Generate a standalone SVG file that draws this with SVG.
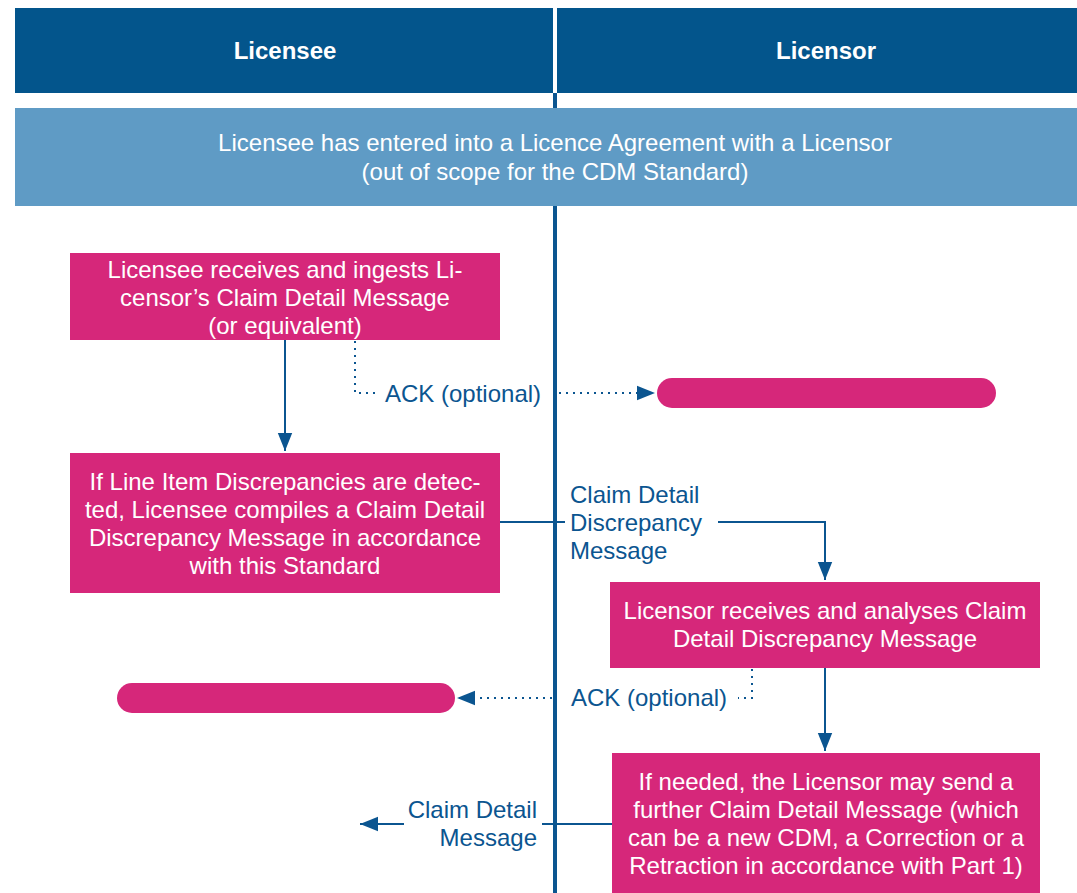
<svg xmlns="http://www.w3.org/2000/svg" width="1077" height="893" viewBox="0 0 1077 893">
<style>
.hdr{fill:#03558c}
.band{fill:#5f9bc5}
.box{fill:#d6277a}
.t{font-family:"Liberation Sans",Arial,sans-serif;font-size:24px;fill:#fff;text-anchor:middle}
.th{font-family:"Liberation Sans",Arial,sans-serif;font-size:24px;font-weight:bold;fill:#fff;text-anchor:middle}
.lbl{font-family:"Liberation Sans",Arial,sans-serif;font-size:24px;fill:#0b5590}
.ln{stroke:#0b5590;stroke-width:2;fill:none}
.dot{stroke:#0b5590;stroke-width:2;fill:none;stroke-dasharray:2 5}
</style>
<defs>
<marker id="ahl" viewBox="0 0 10 10" refX="10" refY="5" markerWidth="18" markerHeight="18" markerUnits="userSpaceOnUse" orient="auto">
<path d="M0,1 L10,5 L0,9 z" fill="#0b5590"/>
</marker>
</defs>
<rect width="1077" height="893" fill="#fff"/>
<g id="header-licensee">
<rect class="hdr" x="15" y="8" width="538" height="85"/>
<text class="th" x="285" y="59">Licensee</text>
</g>
<g id="header-licensor">
<rect class="hdr" x="557" y="8" width="520" height="85"/>
<text class="th" x="826" y="59">Licensor</text>
</g>
<g id="lifeline">
<rect x="553" y="93" width="4" height="800" fill="#0b5590"/>
</g>
<g id="agreement">
<rect class="band" x="15" y="108" width="1062" height="98"/>
<text class="t" x="555" y="151">Licensee has entered into a Licence Agreement with a Licensor</text>
<text class="t" x="555" y="180">(out of scope for the CDM Standard)</text>
</g>
<g id="ingest">
<rect class="box" x="70" y="253" width="430" height="87"/>
<text class="t" x="285" y="278">Licensee receives and ingests Li-</text>
<text class="t" x="285" y="306">censor’s Claim Detail Message</text>
<text class="t" x="285" y="334">(or equivalent)</text>
</g>
<g id="ack1">
<rect class="box" x="657" y="378" width="339" height="30" rx="15"/>
</g>
<g id="compile">
<rect class="box" x="70" y="453" width="430" height="140"/>
<text class="t" x="285" y="490">If Line Item Discrepancies are detec-</text>
<text class="t" x="285" y="518">ted, Licensee compiles a Claim Detail</text>
<text class="t" x="285" y="546">Discrepancy Message in accordance</text>
<text class="t" x="285" y="574">with this Standard</text>
</g>
<g id="analyse">
<rect class="box" x="610" y="582" width="430" height="86"/>
<text class="t" x="825" y="619">Licensor receives and analyses Claim</text>
<text class="t" x="825" y="647">Detail Discrepancy Message</text>
</g>
<g id="ack2">
<rect class="box" x="117" y="683" width="338" height="30" rx="15"/>
</g>
<g id="further">
<rect class="box" x="612" y="753" width="428" height="140"/>
<text class="t" x="826" y="790">If needed, the Licensor may send a</text>
<text class="t" x="826" y="818">further Claim Detail Message (which</text>
<text class="t" x="826" y="846">can be a new CDM, a Correction or a</text>
<text class="t" x="826" y="874">Retraction in accordance with Part 1)</text>
</g>
<g id="connectors">
<line class="ln" x1="285" y1="340" x2="285" y2="451" marker-end="url(#ahl)"/>
<path class="dot" d="M355,341 V393 H378"/>
<text class="lbl" x="385" y="402">ACK (optional)</text>
<line class="dot" x1="559" y1="393" x2="655" y2="393" marker-end="url(#ahl)"/>
<line class="ln" x1="500" y1="522" x2="565" y2="522"/>
<text class="lbl" x="570" y="503">Claim Detail</text>
<text class="lbl" x="570" y="531">Discrepancy</text>
<text class="lbl" x="570" y="559">Message</text>
<path class="ln" d="M718,522 H825 V580" marker-end="url(#ahl)"/>
<line class="ln" x1="825" y1="668" x2="825" y2="751" marker-end="url(#ahl)"/>
<path class="dot" d="M752,669 V698 H738"/>
<text class="lbl" x="571" y="706">ACK (optional)</text>
<line class="dot" x1="552" y1="698" x2="457" y2="698" marker-end="url(#ahl)"/>
<line class="ln" x1="612" y1="824" x2="542" y2="824"/>
<text class="lbl" x="537" y="818" text-anchor="end">Claim Detail</text>
<text class="lbl" x="537" y="846" text-anchor="end">Message</text>
<line class="ln" x1="404" y1="824" x2="360" y2="824" marker-end="url(#ahl)"/>
</g>
</svg>
